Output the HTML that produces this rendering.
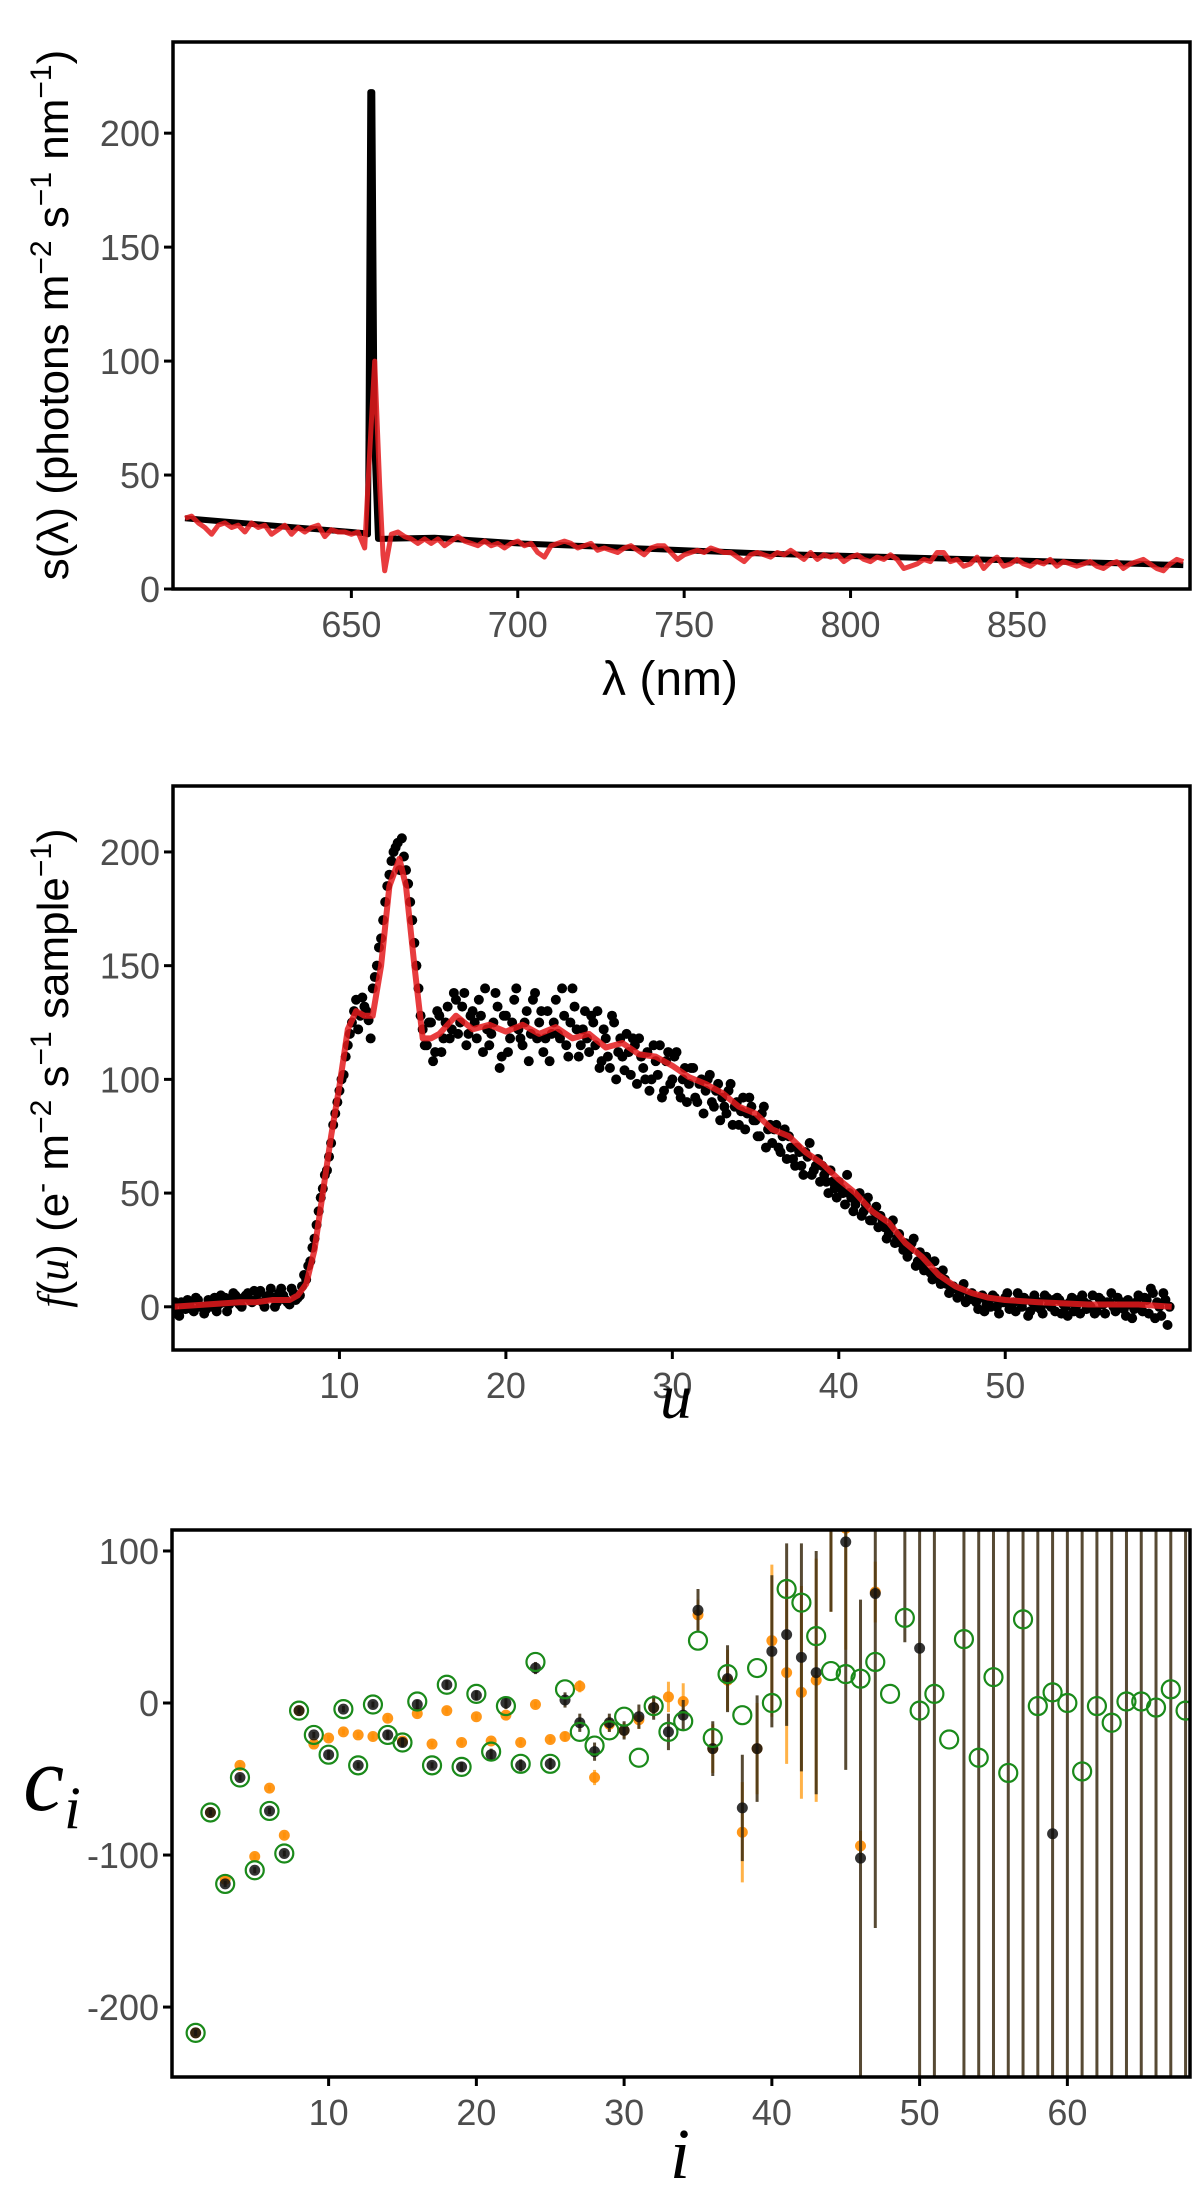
<!DOCTYPE html>
<html><head><meta charset="utf-8"><style>
html,body{margin:0;padding:0;background:#fff;overflow:hidden;width:1200px;height:2195px;}
svg{display:block;}
.tick{font-family:"Liberation Sans Narrow","Liberation Sans",sans-serif;font-size:36px;fill:#4d4d4d;}
.ttl{font-family:"Liberation Sans",sans-serif;fill:#000;}
</style></head><body>
<svg id="fig" width="1200" height="2195" viewBox="0 0 1200 2195" xmlns="http://www.w3.org/2000/svg">
<defs>
<clipPath id="c1"><rect x="173" y="42" width="1017" height="547"/></clipPath>
<clipPath id="c2"><rect x="173" y="786" width="1017" height="564"/></clipPath>
<clipPath id="c3"><rect x="172" y="1530" width="1018" height="547"/></clipPath>
</defs>
<g id="p1"></g>
<g id="p2"></g>
<g id="p3"></g>
<text class="ttl" x="670" y="695" text-anchor="middle" style="font-size:48px">λ (nm)</text>
<text class="ttl" transform="translate(68,315) rotate(-90)" text-anchor="middle" style="font-size:44px">s(λ) (photons m<tspan dy="-17" style="font-size:30px">−2</tspan><tspan dy="17"> s</tspan><tspan dy="-17" style="font-size:30px">−1</tspan><tspan dy="17"> nm</tspan><tspan dy="-17" style="font-size:30px">−1</tspan><tspan dy="17">)</tspan></text>
<text class="ttl" x="676" y="1418" text-anchor="middle" style="font-family:'Liberation Serif',serif;font-style:italic;font-size:64px">u</text>
<text class="ttl" transform="translate(68,1068) rotate(-90)" text-anchor="middle" style="font-size:44px"><tspan style="font-family:'Liberation Serif',serif;font-style:italic">f</tspan>(<tspan style="font-family:'Liberation Serif',serif;font-style:italic">u</tspan>) (e<tspan dy="-17" style="font-size:30px">-</tspan><tspan dy="17"> m</tspan><tspan dy="-17" style="font-size:30px">−2</tspan><tspan dy="17"> s</tspan><tspan dy="-17" style="font-size:30px">−1</tspan><tspan dy="17"> sample</tspan><tspan dy="-17" style="font-size:30px">−1</tspan><tspan dy="17">)</tspan></text>
<text class="ttl" x="680" y="2178" text-anchor="middle" style="font-family:'Liberation Serif',serif;font-style:italic;font-size:72px">i</text>
<text class="ttl" x="52" y="1810" text-anchor="middle" style="font-family:'Liberation Serif',serif;font-style:italic;font-size:92px">c<tspan dy="18" style="font-size:60px">i</tspan></text>
</svg>
<script>
// ---------- Panel 1 data ----------
const contLam=[600,625,650,654,655,655.7,656.3,657,658,659,675,700,725,750,775,800,825,850,875,900];
const contVal=[31,28,25,24.5,24,218,218,60,22,22,22.5,20,18.5,17,15.5,14.5,13.5,12.5,11.5,10.5];
const redLam=[600,602,604,606,608,610,612,614,616,618,620,622,624,626,628,630,632,634,636,638,640,642,644,646,648,650,652,654,655.5,657,658.5,659.5,660,662,664,666,668,670,672,674,676,678,680,682,684,686,688,690,692,694,696,698,700,702,704,706,708,710,712,714,716,718,720,722,724,726,728,730,732,734,736,738,740,742,744,746,748,750,752,754,756,758,760,762,764,766,768,770,772,774,776,778,780,782,784,786,788,790,792,794,796,798,800,802,804,806,808,810,812,814,816,818,820,822,824,826,828,830,832,834,836,838,840,842,844,846,848,850,852,854,856,858,860,862,864,866,868,870,872,874,876,878,880,882,884,886,888,890,892,894,896,898,900];
const redVal=[31,32,29,27,24,28,29,27,28,25,29,27,28,24,26,28,24,27,25,27,28,23,26,25,25,24,25,18,60,100,45,15,8,24,25,23,22,20,22,20,22,19,21,23,21,20,19,21,19,20,18,20,21,19,20,16,14,19,20,21,20,18,19,20,17,18,17,16,18,19,17,15,18,19,19,16,13,15,16,17,16,18,17,16,16,14,12,15,16,15,14,16,15,17,15,13,16,13,15,14,15,12,14,15,13,12,14,13,15,13,9,10,11,13,12,16,16,12,13,10,11,14,9,12,14,10,11,13,11,10,12,11,13,10,12,11,10,11,12,10,9,11,12,9,11,12,13,11,9,8,11,13,12,10,8];
const p1XTicks=[650,700,750,800,850];
const p1YTicks=[0,50,100,150,200];
// ---------- Panel 2 data ----------
const redU=[0,2,4,5,6,7,7.5,8,8.5,9,9.5,10,10.5,11,11.5,12,12.5,13,13.6,14,14.5,15,15.5,16,17,18,19,20,21,22,23,24,25,26,27,28,29,30,31,32,33,34,35,36,37,38,39,40,41,42,43,44,45,46,47,48,49,50,52,55,58,60];
const redF=[0,1,2,2,3,3,5,10,25,50,75,97,122,130,128,128,150,185,197,185,150,118,118,120,128,122,124,121,124,120,123,118,120,114,116,111,110,106,101,98,94,88,85,78,75,68,63,56,50,42,37,28,22,14,9,6,4,3,2,1,1,0];
const dotStart=0, dotStep=0.25;
const dotF=[0,-3,2,-1, 1,-2,3,0, -1,2,4,1, 2,-2,3,5, 1,4,6,2, 3,7,0,5, 4,2,8,3, 1,6,4,9,
12,20,30,42, 52,60,72,85, 95,102,115,125, 135,128,132,126, 140,150,162,178, 190,200,204,206, 192,178,160,140,
122,115,125,112, 128,118,132,122, 135,125,138,120, 130,118,128,140, 115,125,132,110, 128,118,135,122,
115,130,120,138, 125,112,130,120, 135,118,128,110, 140,122,115,130, 112,125,130,108, 118,105,125,112,
110,120,102,115, 118,105,112,100, 108,115,95,112, 100,112,92,105, 98,105,90,100, 95,102,88,98,
92,85,98,88, 80,92,85,88, 82,75,88,78, 72,80,68,78, 75,65,70,62, 68,72,60,65, 62,55,60,52,
55,50,58,48, 45,50,42,48, 38,44,40,35, 32,38,30,28, 28,25,30,20, 18,22,15,20, 12,16,10,8,
8,5,10,3, 6,2,4,-2, 3,5,0,2, 4,-1,2,6, 0,3,-2,5, 2,-3,4,0, -2,3,1,-4, 4,0,-3,2, 1,5,-2,3,
-3,2,0,4, 2,-4,1,-1, 5,-2,3,8, -5,0,6,-8];
const dotStart2=0.125;
const dotF2=[2,-4,0,3, -1,4,0,-3, 3,0,-2,5, 4,1,6,2, 0,5,3,7, 6,2,4,8, 0,6,5,2, 8,3,5,14,
18,26,36,48, 58,66,80,90, 100,110,120,130, 122,136,130,118, 145,158,170,185, 196,202,192,198, 186,170,150,128,
115,125,108,130, 112,125,118,138, 120,132,115,128, 125,135,112,122, 120,138,105,128, 112,125,140,118,
125,108,135,118, 130,118,108,125, 120,140,115,125, 132,110,122,118, 128,115,105,122, 110,128,100,118,
104,112,118,98, 110,100,95,115, 102,92,108,98, 110,95,100,90, 105,92,98,85, 100,90,95,82,
88,95,80,90, 86,78,92,82, 75,85,70,80, 78,70,75,65, 70,62,68,58, 66,58,62,55, 58,50,55,48,
52,45,50,42, 48,40,45,38, 42,35,38,30, 35,28,32,25, 22,28,18,24, 16,20,12,15, 10,12,6,9,
4,7,2,5, 3,-1,5,1, 0,4,-3,2, 6,1,-2,3, 4,-4,2,0, -1,5,1,3, 4,-3,0,2, -2,3,5,-1, 0,-3,4,1,
2,6,-2,0, -1,3,-5,2, 0,4,-3,6, 2,-4,3,0];
const p2XTicks=[10,20,30,40,50];
const p2YTicks=[0,50,100,150,200];
// ---------- Panel 3 data ----------
const idx=[1,2,3,4,5,6,7,8,9,10,11,12,13,14,15,16,17,18,19,20,21,22,23,24,25,26,27,28,29,30,31,32,33,34,35,36,37,38,39,40,41,42,43,44,45,46,47,48,49,50,51,52,53,54,55,56,57,58,59,60,61,62,63,64,65,66,67,68];
const greenC=[-217,-72,-119,-49,-110,-71,-99,-5,-21,-34,-4,-41,-1,-21,-26,1,-41,12,-42,6,-32,-2,-40,27,-40,9,-19,-28,-18,-9,-36,-2,-19,-12,41,-23,19,-8,23,0,75,66,44,21,19,16,27,6,56,-5,6,-24,42,-36,17,-46,55,-2,7,0,-45,-2,-13,1,1,-3,9,-5];
const blackC=[-217,-72,-119,-49,-110,-71,-99,-5,-21,-34,-4,-41,-1,-21,-26,-1,-41,12,-42,5,-34,0,-41,23,-40,2,-13,-32,-13,-18,-9,-3,-19,-8,61,-30,16,-69,-30,34,45,30,20,300,106,-102,72,300,300,36,300,300,300,300,300,300,300,300,-86,300,300,300,300,300,300,300,300,300];
const blackErr=[2,2,2,2,2,2,2,2,2,3,2,2,2,3,3,3,2,3,3,3,4,4,4,4,4,5,6,6,6,6,8,8,12,10,14,18,22,35,35,50,60,75,80,240,150,170,220,0,260,1000,1000,0,1000,1000,1000,1000,1000,1000,1000,1000,1000,1000,1000,1000,1000,1000,1000,1000];
const orangeC=[-217,-72,-116,-41,-101,-56,-87,-5,-27,-23,-19,-21,-22,-10,-25,-7,-27,-5,-26,-9,-25,-8,-26,-1,-24,-22,11,-49,-14,-18,-11,-3,4,1,58,-30,15,-85,-30,41,20,7,15,300,115,-94,73,300,300,300,300,300,300,300,300,300,300,300,300,300,300,300,300,300,300,300,300,300];
const orangeErr=[2,2,2,2,2,2,2,2,2,2,2,2,2,2,2,2,2,2,2,2,2,2,2,2,2,3,4,5,5,5,6,6,10,12,10,16,20,33,30,50,60,70,80,240,80,10,20,0,0,0,0,0,60,0,0,0,0,0,0,0,0,0,0,0,0,0,0,0];
const p3XTicks=[10,20,30,40,50,60];
const p3YTicks=[-200,-100,0,100];
const p3YLabels=["-200","-100","0","100"];

const NS="http://www.w3.org/2000/svg";
function mk(parent,tag,attrs){const e=document.createElementNS(NS,tag);for(const k in attrs)e.setAttribute(k,attrs[k]);parent.appendChild(e);return e;}
function axes(g,box,xs,ys,xt,yt,ylab,clip){
  for(let i=0;i<xt.length;i++){const x=xs(xt[i]);
    const t=mk(g,'line',{x1:x,x2:x,y1:box.y1,y2:box.y1+9,stroke:'#000','stroke-width':3});
    
    
    const l=mk(g,'text',{x:x,y:box.y1+48,'text-anchor':'middle',class:'tick'});l.textContent=xt[i];
    
    }
  for(let i=0;i<yt.length;i++){const y=ys(yt[i]);
    const t=mk(g,'line',{x1:box.x0-9,x2:box.x0,y1:y,y2:y,stroke:'#000','stroke-width':3});
    
    
    const l=mk(g,'text',{x:box.x0-13,y:y+13,'text-anchor':'end',class:'tick'});l.textContent=ylab?ylab[i]:yt[i];
    
    }
  const pg=mk(g,'g',{'clip-path':'url(#'+clip+')'});
  
  
  return pg;
}
function frame(g,box){const r=mk(g,'rect',{x:box.x0,y:box.y0,width:box.x1-box.x0,height:box.y1-box.y0,fill:'none',stroke:'#000','stroke-width':3.5});
  
  }
function pathD(xa,ya,xs,ys){return xa.map((v,i)=>(i?'L':'M')+xs(v).toFixed(1)+','+ys(ya[i]).toFixed(1)).join('');}

// Panel 1
(function(){
  const g=document.getElementById('p1');const box={x0:173,x1:1190,y0:42,y1:589};
  const xs=v=>box.x0+(v-596.4)/(902-596.4)*(box.x1-box.x0);
  const ys=v=>box.y1-(v-0)/(240-0)*(box.y1-box.y0);
  const pg=axes(g,box,xs,ys,p1XTicks,p1YTicks,null,'c1');
  const b=mk(pg,'path',{d:pathD(contLam,contVal,xs,ys),fill:'none',stroke:'#000','stroke-width':6,'stroke-linejoin':'round'});
  
  
  const r=mk(pg,'path',{d:pathD(redLam,redVal,xs,ys),fill:'none',stroke:'#e41a1c','stroke-opacity':0.85,'stroke-width':5,'stroke-linejoin':'round'});
  
  
  frame(g,box);
})();
// Panel 2
(function(){
  const g=document.getElementById('p2');const box={x0:173,x1:1190,y0:786,y1:1350};
  const xs=v=>box.x0+(v-0)/(61.1-0)*(box.x1-box.x0);
  const ys=v=>box.y1-(v+19)/(229+19)*(box.y1-box.y0);
  const pg=axes(g,box,xs,ys,p2XTicks,p2YTicks,null,'c2');
  dotF.forEach((v,i)=>{const c=mk(pg,'circle',{cx:xs(dotStart+i*dotStep),cy:ys(v),r:5,fill:'#000'});
    
    });
  dotF2.forEach((v,i)=>{const c=mk(pg,'circle',{cx:xs(dotStart2+i*dotStep),cy:ys(v),r:5,fill:'#000'});
    
    });
  const r=mk(pg,'path',{d:pathD(redU,redF,xs,ys),fill:'none',stroke:'#e41a1c','stroke-opacity':0.85,'stroke-width':6,'stroke-linejoin':'round'});
  
  
  frame(g,box);
})();
// Panel 3
(function(){
  const g=document.getElementById('p3');const box={x0:172,x1:1190,y0:1530,y1:2077};
  const xs=v=>box.x0+(v+0.6)/(68.3+0.6)*(box.x1-box.x0);
  const ys=v=>box.y1-(v+246)/(113.8+246)*(box.y1-box.y0);
  const pg=axes(g,box,xs,ys,p3XTicks,p3YTicks,p3YLabels,'c3');
  idx.forEach((k,i)=>{const x=xs(k);
    if(orangeErr[i]>0){const l=mk(pg,'line',{x1:x,x2:x,y1:ys(orangeC[i]-orangeErr[i]),y2:ys(orangeC[i]+orangeErr[i]),stroke:'#ff9f1a','stroke-width':3,'stroke-opacity':0.8});
      
      }
    const o=mk(pg,'circle',{cx:x,cy:ys(orangeC[i]),r:5.5,fill:'#ff8c00','fill-opacity':0.9});
    
    
    if(blackErr[i]>0){const l=mk(pg,'line',{x1:x,x2:x,y1:ys(blackC[i]-blackErr[i]),y2:ys(blackC[i]+blackErr[i]),stroke:'#3a2a10','stroke-width':3,'stroke-opacity':0.85});
      
      }
    const b=mk(pg,'circle',{cx:x,cy:ys(blackC[i]),r:5.5,fill:'#111','fill-opacity':0.85});
    
    
    const gr=mk(pg,'circle',{cx:x,cy:ys(greenC[i]),r:9,fill:'none',stroke:'#1a8a1a','stroke-width':2.2});
    
    
  });
  frame(g,box);
})();
</script>
</body></html>
